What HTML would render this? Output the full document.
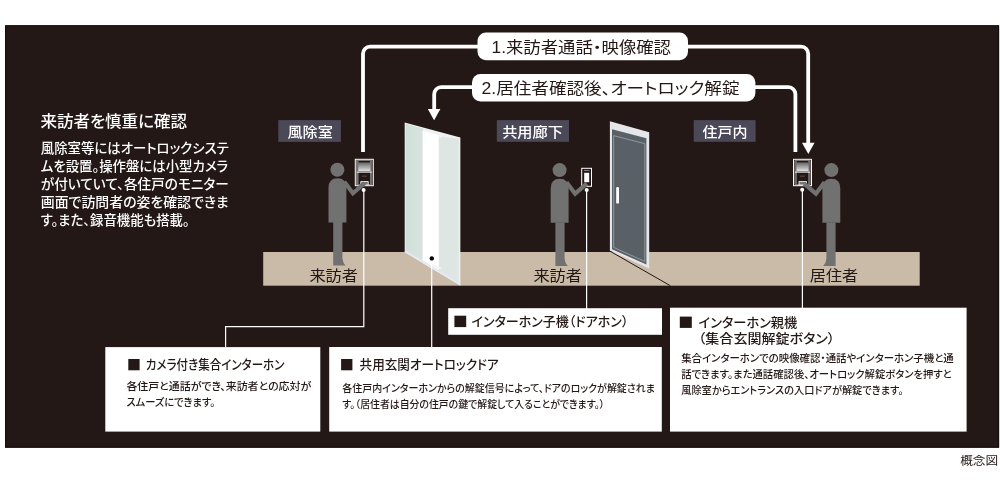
<!DOCTYPE html>
<html lang="ja">
<head>
<meta charset="utf-8">
<title>来訪者を慎重に確認</title>
<style>
html,body{margin:0;padding:0;background:#fff;}
body{width:1000px;height:484px;overflow:hidden;position:relative;}
svg{position:absolute;left:0;top:0;display:block;will-change:transform;transform:translateZ(0);}
text{font-family:"Liberation Sans","Noto Sans CJK JP",sans-serif;font-feature-settings:"palt";}
.w{fill:#fff;}
.k{fill:#231815;}
</style>
</head>
<body>
<svg width="1000" height="484" viewBox="0 0 1000 484">
<defs>
  <linearGradient id="scr" x1="0" y1="0" x2="0" y2="1">
    <stop offset="0" stop-color="#666"/>
    <stop offset="1" stop-color="#e6e6e6"/>
  </linearGradient>
  <linearGradient id="gl" x1="0" y1="0" x2="1" y2="0">
    <stop offset="0" stop-color="#cfe0d9"/>
    <stop offset="1" stop-color="#d9e3df"/>
  </linearGradient>
  <g id="person">
    <circle cx="337.4" cy="169.7" r="7"/>
    <path d="M328.5,222.4 L328.5,188 Q328.5,178.3 337.5,178.3 Q346.4,178.3 346.4,188 L346.4,222.4 Z"/>
    <path d="M333.2,222 L342.4,222 L342.4,258.5 Q343,263 345.6,265.6 L333.2,265.6 Z"/>
  </g>
  <polyline id="arm" points="344.3,181.8 352.9,193.3 364.6,183.2" fill="none" stroke="#727171" stroke-width="4.2"/>
  <g id="icom">
    <rect x="0.5" y="0.5" width="18" height="26.4" fill="#231815" stroke="#fff" stroke-width="1"/>
    <rect x="1.9" y="1.9" width="15.2" height="23.6" fill="none" stroke="#b5b5b5" stroke-width="0.6"/>
    <rect x="2.2" y="2.2" width="1.6" height="23" fill="#777"/>
    <rect x="15.2" y="2.2" width="1.6" height="23" fill="#777"/>
    <rect x="3.4" y="3.6" width="12.2" height="9" fill="url(#scr)"/>
    <rect x="2" y="12.9" width="15" height="0.9" fill="#fff"/>
    <rect x="7" y="16.6" width="5" height="1.6" fill="#4a3a36"/>
    <rect x="6" y="22.8" width="7.4" height="3.4" fill="#777" stroke="#fff" stroke-width="0.8"/>
  </g>
</defs>

<!-- dark panel -->
<rect x="5.1" y="25.3" width="994" height="422.4" fill="#231815"/>
<rect x="5.6" y="25.8" width="993" height="421.4" fill="none" stroke="#140a09" stroke-width="1"/>

<!-- floor -->
<rect x="263.2" y="252" width="656.5" height="33.7" fill="#c9bba8"/>

<!-- glass door -->
<clipPath id="gd"><polygon points="404.7,122.4 460.3,137.4 460.3,285.6 404.7,252.2"/></clipPath>
<g clip-path="url(#gd)">
  <rect x="400" y="115" width="65" height="175" fill="#eef2f2"/>
  <polygon points="405.6,123.8 423,128.6 423,270 405.6,260" fill="url(#gl)"/>
  <polygon points="422.6,130.8 438.9,135.2 438.9,280 422.6,270" fill="#ffffff"/>
  <polygon points="438.8,136.2 458.8,138.8 458.8,290 438.8,280" fill="#dde6e3"/>
  <line x1="439.4" y1="136.4" x2="441.6" y2="137" stroke="#f4f6f6" stroke-width="1.6"/>
  <polyline points="404.7,251.2 460.3,284.6" fill="none" stroke="#e6e7f1" stroke-width="2.6"/>
  <line x1="459.5" y1="137.4" x2="459.5" y2="286" stroke="#eceef4" stroke-width="1.6"/>
  <line x1="431" y1="264.3" x2="441.3" y2="268.6" stroke="#f3f3f8" stroke-width="1.8"/>
  <circle cx="431.8" cy="258.4" r="2.2" fill="#000"/>
</g>

<!-- grey door -->
<g>
  <polygon points="609.9,121.2 649.2,132.3 649.2,268.6 609.9,250.8" fill="#e4e6e9"/>
  <polygon points="612,129.2 646.4,138.2 646.4,264.6 612,249.2" fill="#5a6166"/>
  <polygon points="613.6,135.6 644.8,143.7 644.8,261.4 613.6,247.4" fill="none" stroke="#a9aeb2" stroke-width="0.7"/>
  <rect x="616.2" y="187" width="2.8" height="16.6" rx="1.2" fill="#fff"/>
  <line x1="610" y1="251.2" x2="670.3" y2="285.7" stroke="#231815" stroke-width="1"/>
</g>

<!-- persons -->
<g fill="#727171">
  <use href="#person"/>
  <use href="#person" transform="translate(222.2,0.4)"/>
  <use href="#person" transform="translate(1168.8,0.4) scale(-1,1)"/>
</g>

<!-- intercoms -->
<use href="#icom" transform="translate(354.8,158.8)"/>
<use href="#icom" transform="translate(793,158.8)"/>
<g>
  <rect x="581.7" y="168.3" width="9.8" height="18" fill="#231815" stroke="#fff" stroke-width="1"/>
  <rect x="584.2" y="172.8" width="5" height="9.4" fill="#fff"/>
  <rect x="584" y="170" width="5.4" height="0.7" fill="#aaa"/>
</g>

<!-- arms -->
<use href="#arm"/>
<use href="#arm" transform="translate(222.2,0.4)"/>
<use href="#arm" transform="translate(1168.8,0.4) scale(-1,1)"/>

<!-- thick lines -->
<g fill="none" stroke="#fff" stroke-width="3.8">
  <path d="M363,152 L363,53.7 A7,7 0 0 1 370,46.7 L801.2,46.7 A7,7 0 0 1 808.2,53.7 L808.2,144"/>
  <path d="M795.4,152 L795.4,94.2 A7,7 0 0 0 788.4,87.2 L441.2,87.2 A7,7 0 0 0 434.2,94.2 L434.2,110"/>
</g>
<polygon points="802,142.7 814.6,142.7 808.3,154" fill="#fff"/>
<polygon points="427.8,109 440.4,109 434.1,120.2" fill="#fff"/>

<!-- label pills -->
<rect x="477.5" y="32.6" width="210.5" height="27.6" rx="8.5" fill="#fff"/>
<rect x="472" y="74" width="283.4" height="27.4" rx="8.5" fill="#fff"/>
<text x="491.5" y="52.6" font-size="15.8" class="k" textLength="179.5" lengthAdjust="spacingAndGlyphs">1.来訪者通話・映像確認</text>
<text x="481.5" y="93.9" font-size="15.8" class="k" textLength="258" lengthAdjust="spacingAndGlyphs">2.居住者確認後、オートロック解錠</text>

<!-- room tags -->
<g fill="#4b4858">
  <rect x="278.3" y="120.1" width="62.6" height="21.8"/>
  <rect x="496.8" y="120.1" width="72.2" height="21.7"/>
  <rect x="693.7" y="120.1" width="61.9" height="21.7"/>
</g>
<g font-size="14" class="w" font-weight="500">
  <text x="287.4" y="136.6" textLength="45.4" lengthAdjust="spacingAndGlyphs">風除室</text>
  <text x="502.2" y="136.6" textLength="60.7" lengthAdjust="spacingAndGlyphs">共用廊下</text>
  <text x="702.5" y="136.6" textLength="45" lengthAdjust="spacingAndGlyphs">住戸内</text>
</g>

<!-- floor labels -->
<g font-size="14.6" class="k">
  <text x="309.4" y="280.6" textLength="48.6" lengthAdjust="spacingAndGlyphs">来訪者</text>
  <text x="533.4" y="280.6" textLength="48.6" lengthAdjust="spacingAndGlyphs">来訪者</text>
  <text x="809.8" y="280.6" textLength="48.4" lengthAdjust="spacingAndGlyphs">居住者</text>
</g>

<!-- thin connector lines -->
<g fill="none" stroke="#fff" stroke-width="1.2">
  <path d="M363.8,190 L363.8,326.6 L225.6,326.6 L225.6,347"/>
  <path d="M431.7,264 L431.7,347"/>
  <path d="M586.6,190 L586.6,309"/>
  <path d="M802.4,190 L802.4,309"/>
</g>
<g fill="#fff">
  <circle cx="363.6" cy="190.1" r="2"/>
  <circle cx="586.7" cy="190.1" r="2"/>
  <circle cx="802.2" cy="189.7" r="2"/>
</g>

<!-- white boxes -->
<g fill="#fff">
  <rect x="105.3" y="347.1" width="215" height="84.5"/>
  <rect x="329.2" y="347" width="332.6" height="84.6"/>
  <rect x="448.2" y="308.2" width="213.8" height="26.6"/>
  <rect x="670" y="307.7" width="296.6" height="123.9"/>
</g>
<g class="k">
  <rect x="128.3" y="359" width="11.3" height="11.3"/>
  <rect x="341.1" y="359" width="11.3" height="11.3"/>
  <rect x="454.4" y="315.7" width="11.8" height="11.4"/>
  <rect x="679.8" y="316.6" width="12" height="11.3"/>
</g>

<!-- box titles -->
<g font-size="13" class="k" font-weight="500">
  <text x="145.8" y="369.4" textLength="138.7" lengthAdjust="spacingAndGlyphs">カメラ付き集合インターホン</text>
  <text x="359.6" y="369.4" textLength="139.2" lengthAdjust="spacingAndGlyphs">共用玄関オートロックドア</text>
  <text x="471.5" y="325.8" textLength="156.9" lengthAdjust="spacingAndGlyphs">インターホン子機（ドアホン）</text>
  <text x="698.6" y="326.8" textLength="98.6" lengthAdjust="spacingAndGlyphs">インターホン親機</text>
  <text x="698.3" y="342.8" textLength="136.6" lengthAdjust="spacingAndGlyphs">（集合玄関解錠ボタン）</text>
</g>

<!-- box body text -->
<g font-size="10.3" class="k" font-weight="500">
  <text x="126.4" y="390.2" textLength="184.8" lengthAdjust="spacingAndGlyphs">各住戸と通話ができ、来訪者との応対が</text>
  <text x="126.4" y="406" textLength="89" lengthAdjust="spacingAndGlyphs">スムーズにできます。</text>
  <text x="342.3" y="392.2" textLength="312.6" lengthAdjust="spacingAndGlyphs">各住戸内インターホンからの解錠信号によって、ドアのロックが解錠されま</text>
  <text x="342.3" y="408.2" textLength="262.3" lengthAdjust="spacingAndGlyphs">す。（居住者は自分の住戸の鍵で解錠して入ることができます。）</text>
  <text x="681.2" y="362.4" textLength="272.6" lengthAdjust="spacingAndGlyphs">集合インターホンでの映像確認・通話やインターホン子機と通</text>
  <text x="681.2" y="378.1" textLength="270.6" lengthAdjust="spacingAndGlyphs">話できます。また通話確認後、オートロック解錠ボタンを押すと</text>
  <text x="681.2" y="394.2" textLength="222.2" lengthAdjust="spacingAndGlyphs">風除室からエントランスの入口ドアが解錠できます。</text>
</g>

<!-- left copy -->
<text x="40.4" y="126.8" font-size="15.4" class="w" font-weight="500" textLength="146.6" lengthAdjust="spacingAndGlyphs">来訪者を慎重に確認</text>
<g font-size="13.1" class="w" font-weight="500">
  <text x="40.8" y="152.7" textLength="188" lengthAdjust="spacingAndGlyphs">風除室等にはオートロックシステ</text>
  <text x="40.8" y="170.7" textLength="187.4" lengthAdjust="spacingAndGlyphs">ムを設置。操作盤には小型カメラ</text>
  <text x="40.8" y="188.8" textLength="188" lengthAdjust="spacingAndGlyphs">が付いていて、各住戸のモニター</text>
  <text x="40.8" y="206.9" textLength="188" lengthAdjust="spacingAndGlyphs">画面で訪問者の姿を確認できま</text>
  <text x="40.8" y="224.9" textLength="148.8" lengthAdjust="spacingAndGlyphs">す。また、録音機能も搭載。</text>
</g>

<!-- caption -->
<text x="960.2" y="464.6" font-size="11.4" class="k" textLength="38" lengthAdjust="spacingAndGlyphs">概念図</text>
</svg>
</body>
</html>
